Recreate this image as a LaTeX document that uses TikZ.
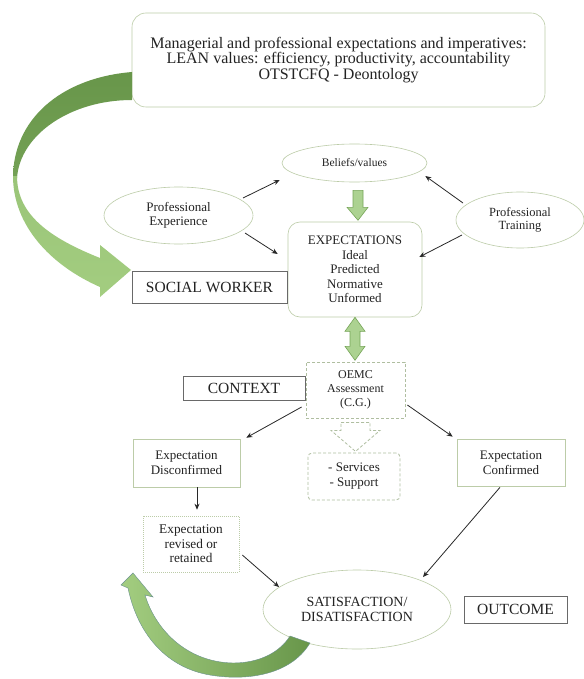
\documentclass[tikz,border=0pt]{standalone}
\usepackage{fontspec}
\setmainfont{Liberation Serif}
\usetikzlibrary{shapes.geometric,arrows.meta}
\definecolor{bord}{RGB}{188,204,168}
\definecolor{dbord}{RGB}{105,105,105}
\definecolor{dashc}{RGB}{175,190,160}
\definecolor{arrc}{RGB}{40,40,40}
\definecolor{txt}{RGB}{35,35,35}
\definecolor{lgreen}{RGB}{172,210,145}
\definecolor{mgreen}{RGB}{118,165,88}
\definecolor{dgreen}{RGB}{104,150,74}
\definecolor{pgreen}{RGB}{163,205,128}
\begin{document}
\begin{tikzpicture}[x=1pt,y=-1pt,
  softbox/.style={draw=bord, line width=0.6pt, rectangle, inner sep=0pt, align=center, text=txt},
  oval/.style={draw=bord, line width=0.6pt, ellipse, inner sep=0pt, align=center, text=txt},
  darkbox/.style={draw=dbord, line width=0.9pt, rectangle, inner sep=0pt, align=center, text=txt},
  dashbox/.style={draw=dashc, dash pattern=on 3pt off 2pt, line width=0.8pt, rectangle, inner sep=0pt, align=center, text=txt},
  arr/.style={draw=arrc, line width=0.8pt, -{Stealth[length=6pt,width=5pt]}},
  blk/.style={fill=lgreen, draw=mgreen, line width=0.6pt, line join=miter},
  dashblk/.style={draw=dashc, dash pattern=on 3pt off 2pt, line width=0.8pt}
]
\useasboundingbox (0,0) rectangle (583,679);
\fill[white] (0,0) rectangle (583,679);

% nodes
\node[softbox, rounded corners=14pt, minimum width=413pt, minimum height=94pt,
      font=\fontsize{16}{13.8}\selectfont] (top) at (338.5,60)
  {Managerial and professional expectations and imperatives:\\
   LEAN values: efficiency, productivity, accountability\\
   OTSTCFQ - Deontology};
\node[oval, minimum width=145pt, minimum height=38pt, font=\fontsize{11.5}{13}\selectfont] (beliefs) at (354.5,163) {Beliefs/values};
\node[oval, minimum width=149pt, minimum height=57pt, font=\fontsize{13}{14}\selectfont] (pe) at (178.5,215.5) {Professional\\Experience};
\node[oval, minimum width=128pt, minimum height=56pt, font=\fontsize{12.5}{12.5}\selectfont] (pt) at (520,220) {Professional\\Training};
\node[softbox, rounded corners=12pt, minimum width=134pt, minimum height=95pt, font=\fontsize{13}{14.5}\selectfont] (exp) at (355,269.5)
  {EXPECTATIONS\\Ideal\\Predicted\\Normative\\Unformed};
\node[darkbox, minimum width=155pt, minimum height=32pt, font=\fontsize{15.5}{16}\selectfont] (sw) at (209.5,287) {SOCIAL WORKER};
\node[dashbox, minimum width=99pt, minimum height=56pt, font=\fontsize{12}{14}\selectfont] (oemc) at (355.5,390) {OEMC\\Assessment\\(C.G.)};
\node[darkbox, minimum width=122pt, minimum height=24pt, font=\fontsize{15.5}{16}\selectfont] (ctx) at (244,388) {CONTEXT};
\node[dashbox, rounded corners=4pt, minimum width=92pt, minimum height=47pt, font=\fontsize{13}{15}\selectfont] (svc) at (354,476.5) {- Services\\- Support};
\node[softbox, minimum width=107pt, minimum height=48pt, font=\fontsize{13}{15}\selectfont] (dis) at (186.5,463) {Expectation\\Disconfirmed};
\node[softbox, minimum width=108pt, minimum height=47pt, font=\fontsize{13}{15}\selectfont] (con) at (511,462.5) {Expectation\\Confirmed};
\node[softbox, dash pattern=on 1pt off 1pt, minimum width=96pt, minimum height=56pt, font=\fontsize{13.3}{14.5}\selectfont] (rev) at (191,544) {Expectation\\revised or\\retained};
\node[oval, minimum width=188pt, minimum height=79pt, font=\fontsize{14}{15}\selectfont] (sat) at (357,609.5) {SATISFACTION/\\DISATISFACTION};
\node[darkbox, minimum width=103pt, minimum height=27pt, font=\fontsize{15.5}{16}\selectfont] (out) at (515.5,609.5) {OUTCOME};

% thin arrows
\draw[arr] ([shift={(64.5,-17.5)}]pe.center) -- ([shift={(-2,17)}]beliefs.west);
\draw[arr] ([shift={(66.5,17.5)}]pe.center) -- ([shift={(-10,-15.5)}]exp.west);
\draw[arr] ([shift={(-57,-17)}]pt.center) -- ([shift={(-2,13)}]beliefs.east);
\draw[arr] ([shift={(-58,15)}]pt.center) -- ([shift={(-3,-12.5)}]exp.east);
\draw[arr] ([shift={(-4,17)}]oemc.west) -- ([shift={(6,-1)}]dis.north east);
\draw[arr] ([shift={(2,15)}]oemc.east) -- ([shift={(-4,-2)}]con.north west);
\draw[arr] ([xshift=10.5pt]dis.south) -- ([shift={(6,-6)}]rev.north);
\draw[arr] ([shift={(3,11)}]rev.east) -- ([shift={(-78,-22.5)}]sat.center);
\draw[arr] ([shift={(-11,1)}]con.south) -- ([shift={(66,-32.5)}]sat.center);

% block arrow beliefs -> expectations
\draw[blk] ([shift={(-1.5,8)}]beliefs.south) -- ++(10,0) -- ++(0,17) -- ++(5,0) -- ++(-10,13) -- ++(-11,-13) -- ++(6,0) -- cycle;
% double block arrow expectations <-> OEMC
\draw[blk] (exp.south) -- ++(10,14) -- ++(-5,0) -- ++(0,15) -- ++(5,0) -- ++(-10,14) -- ++(-10,-14) -- ++(5,0) -- ++(0,-15) -- ++(-5,0) -- cycle;
% dashed block arrow OEMC -> services
\draw[dashblk] ([shift={(-14.5,4)}]oemc.south) -- ++(29,0) -- ++(0,8) -- ++(10,0) -- ++(-24.5,21) -- ++(-24.5,-21) -- ++(10,0) -- cycle;

% big curved arrow from top box to social worker
\shade[top color=dgreen, bottom color=dgreen!80!pgreen]
  (132,72) .. controls (60,78) and (13,120) .. (13,178)
  -- (17,178) .. controls (20,135) and (70,100) .. (132,100) -- cycle;
\shade[top color=pgreen!85!dgreen, bottom color=pgreen]
  (13,176) .. controls (13,225) and (50,265) .. (100,287)
  -- (100,297) -- (131,270) -- (100,245) -- (100,258)
  .. controls (50,238) and (17,215) .. (17,176) -- cycle;

% curved arrow from satisfaction back to revised
\shade[left color=pgreen, right color=dgreen, draw={rgb,255:red,105;green,145;blue,140}, line width=0.4pt]
  (310,643) .. controls (290,676) and (245,681) .. (210,675)
  .. controls (168,668) and (138,636) .. (128,588)
  -- (121,585) -- (133,573) -- (153,597) -- (145,595)
  .. controls (155,628) and (185,662) .. (233,663)
  .. controls (260,663) and (280,652) .. (290,636) -- cycle;
\end{tikzpicture}
\end{document}
